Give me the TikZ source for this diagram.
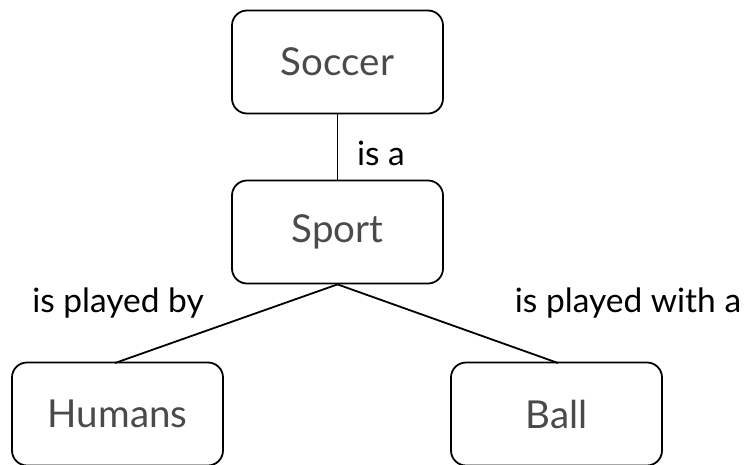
\documentclass[tikz,border=0pt]{standalone}
\usepackage{fontspec}
\setmainfont{Lato}
\definecolor{boxtext}{HTML}{4A4A4A}
\tikzset{
  conceptbox/.style={draw=black, line width=1.8pt, rounded corners=15pt,
    minimum width=211pt, minimum height=103pt, inner sep=0pt,
    font=\fontsize{38.5}{42}\selectfont, text=boxtext},
  rel/.style={font=\fontsize{33.5}{36}\selectfont, text=black, inner sep=0pt},
  link/.style={draw=black, line width=1.8pt}
}
\begin{document}
\begin{tikzpicture}[x=1pt,y=-1pt]
\useasboundingbox (0,0) rectangle (749,464);
\node[conceptbox] (soccer) at (337.5,62) {Soccer};
\node[conceptbox] (sport) at (337.5,232) {Sport};
\node[conceptbox] (humans) at (117.5,414) {Humans};
\node[conceptbox] (ball) at (556.5,414) {Ball};
\coordinate (hum) at (115,363);
\coordinate (bal) at (558,363);
\draw[link] (soccer.south) -- (sport.north);
\draw[link] (sport.south) -- (hum);
\draw[link] (sport.south) -- (bal);
\node[rel] (isa) at (381,153) {is a};
\node[rel] (pby) at (118,303) {is played by};
\node[rel] (pwith) at (628,303) {is played with a};
\end{tikzpicture}
\end{document}
